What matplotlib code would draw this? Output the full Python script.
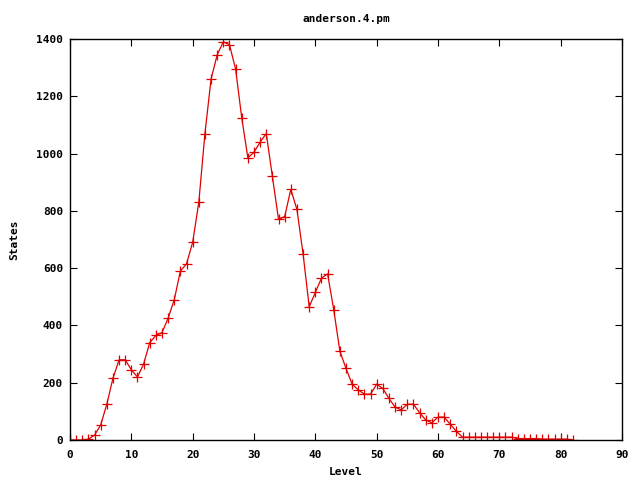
import numpy as np
import matplotlib
matplotlib.use("Agg")
import matplotlib.pyplot as plt

# states per level
levels = np.arange(0, 83)
states = [0, 0, 0, 3, 17, 52, 125, 215, 280, 280,
          245, 220, 265, 340, 365, 375, 425, 490, 590, 615,
          690, 830, 1070, 1260, 1345, 1390, 1380, 1295, 1125, 985,
          1005, 1040, 1070, 920, 770, 780, 875, 805, 650, 465,
          515, 565, 580, 455, 310, 250, 195, 175, 160, 160,
          195, 180, 145, 115, 105, 125, 125, 95, 70, 60,
          80, 80, 55, 30, 10, 10, 10, 10, 10, 10,
          10, 10, 10, 5, 5, 5, 5, 3, 3, 3,
          3, 3, 0]
xticks = np.arange(0, 91, 10)
yticks = np.arange(0, 1401, 200)

plt.rcParams['font.family'] = ['DejaVu Sans Mono']
plt.rcParams['font.weight'] = 'bold'
plt.rcParams['font.size'] = 8

fig = plt.figure(figsize=(6.4, 4.8), dpi=100)
ax = fig.add_axes([70/640, 1-440/480, 552/640, 401/480])
ax.plot(levels, states, color='#e00000', lw=0.9, marker='+', ms=6.5, mew=0.9)
ax.set_xlim(0, 90)
ax.set_ylim(0, 1400)
ax.set_xticks(xticks)
ax.set_yticks(yticks)
ax.tick_params(direction='in', top=True, right=True, length=5, width=0.8, pad=5)
ax.tick_params(axis='x', pad=7)
for s in ax.spines.values():
    s.set_linewidth(1.0)
ax.set_title("anderson.4.pm", fontsize=8, fontweight='bold', pad=12)
ax.set_xlabel("Level", fontsize=8, fontweight='bold', labelpad=5)
ax.set_ylabel("States", fontsize=8, fontweight='bold', labelpad=12)
fig.savefig("out.png", dpi=100)
